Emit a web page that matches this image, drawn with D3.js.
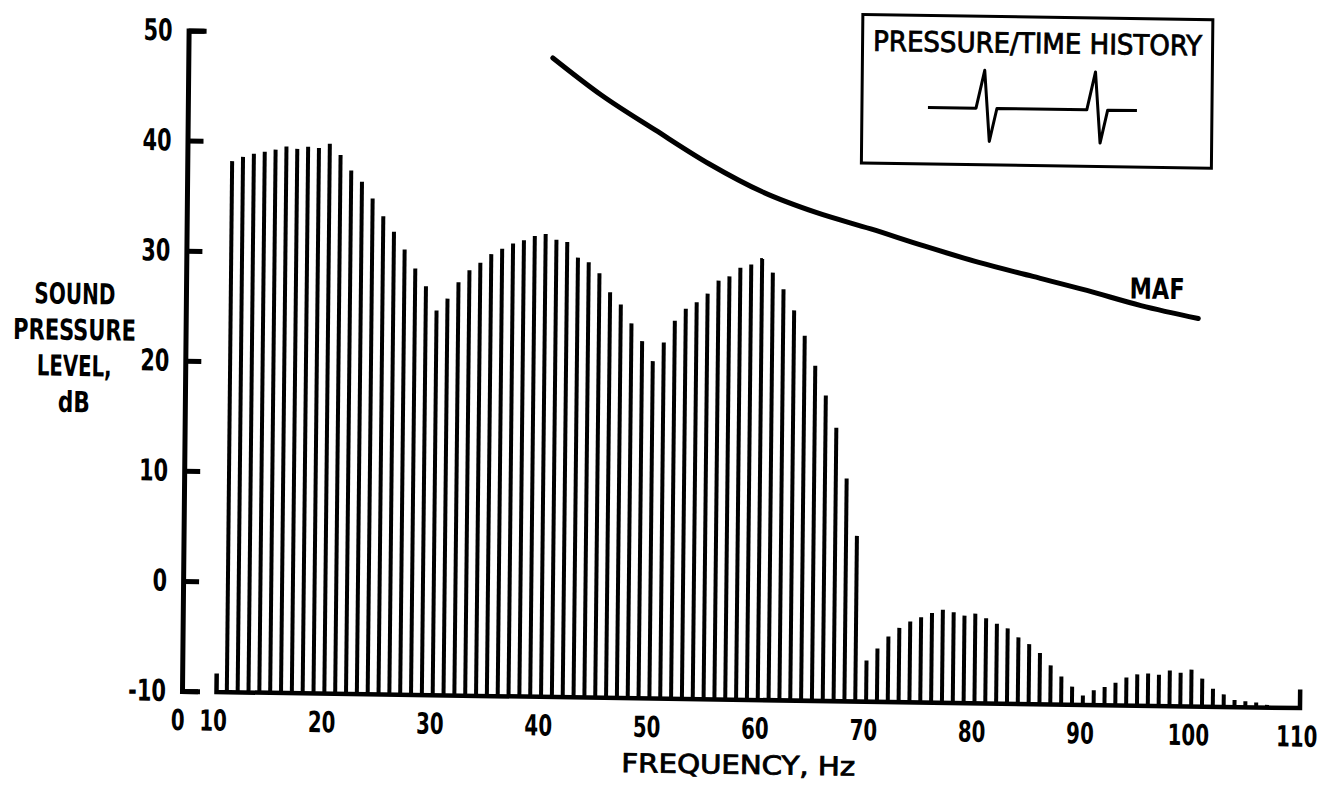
<!DOCTYPE html>
<html>
<head>
<meta charset="utf-8">
<script src="https://cdnjs.cloudflare.com/ajax/libs/d3/7.8.5/d3.min.js"></script>
<style>
  body { margin: 0; background: #fff; }
  svg { display: block; background: #fff; }
  text {
    font-family: "DejaVu Sans Condensed", "DejaVu Sans", sans-serif;
    font-weight: bold;
    font-size: 29px;
    fill: #000;
  }
  .axis text { font-size: 29px; }
  .axis.y text { font-size: 30px; }
</style>
</head>
<body>
<svg id="chart" width="1330" height="788"></svg>
<script>
// harmonic lines, 1 Hz apart
const freqs = [11, 12, 13, 14, 15, 16, 17, 18, 19, 20,
  21, 22, 23, 24, 25, 26, 27, 28, 29, 30,
  31, 32, 33, 34, 35, 36, 37, 38, 39, 40,
  41, 42, 43, 44, 45, 46, 47, 48, 49, 50,
  51, 52, 53, 54, 55, 56, 57, 58, 59, 60,
  61, 62, 63, 64, 65, 66, 67, 68, 69, 70,
  71, 72, 73, 74, 75, 76, 77, 78, 79, 80,
  81, 82, 83, 84, 85, 86, 87, 88, 89, 90,
  91, 92, 93, 94, 95, 96, 97, 98, 99, 100,
  101, 102, 103, 104, 105, 106, 107];

// sound pressure level, dB
const levels = [38.2, 38.6, 38.9, 39.1, 39.3, 39.6, 39.4, 39.6, 39.5, 39.9,
  38.9, 37.5, 36.5, 35.0, 33.4, 32.0, 30.4, 28.7, 27.1, 24.9,
  26.0, 27.5, 28.6, 29.3, 30.1, 30.6, 31.1, 31.4, 31.8, 32.0,
  31.5, 31.3, 29.9, 29.5, 28.5, 26.8, 25.7, 24.0, 22.4, 20.6,
  22.3, 24.3, 25.4, 26.0, 26.8, 28.0, 28.4, 29.2, 29.5, 30.1,
  28.8, 27.3, 25.4, 23.1, 20.4, 17.7, 14.8, 10.2, 5.0, -6.3,
  -5.2, -4.1, -3.3, -2.7, -2.3, -1.9, -1.6, -1.8, -2.1, -1.9,
  -2.3, -2.8, -3.2, -4.0, -4.6, -5.4, -6.5, -7.5, -8.4, -9.2,
  -8.7, -8.4, -8.0, -7.5, -7.2, -7.1, -7.2, -6.8, -7.0, -6.7,
  -7.5, -8.4, -8.9, -9.4, -9.5, -9.6, -9.8];

// MAF curve
const mafFreq = [40.5, 45, 50, 55, 60, 65, 70, 75, 80, 85, 90, 95, 100.3];
const mafLevel = [48.0, 44.7, 41.6, 38.6, 36.1, 34.3, 32.9, 31.4, 30.0, 28.8, 27.6, 26.3, 25.2];

// inset: pressure/time history (relative units)
const histTime = [0, 23, 27, 29.5, 33, 76, 80, 82.5, 86, 100];
const histPressure = [0, 0, 1, -0.87, 0, 0, 1, -0.87, 0, 0];

const xTicks = [10, 20, 30, 40, 50, 60, 70, 80, 90, 100, 110];
const yTicks = [-10, 0, 10, 20, 30, 40, 50];
const yTitle = ["SOUND", "PRESSURE", "LEVEL,", "dB"];

const svg = d3.select("#chart");

// the scanned original is slightly skewed, keep that
const g = svg.append("g")
  .attr("transform", "translate(213,691.5) matrix(1,0.0148,-0.01,1,0,0) translate(-213,-691.5)");

const x = d3.scaleLinear().domain([10, 110]).range([216, 1299.5]);
const y = d3.scaleLinear().domain([-10, 50]).range([691.5, 31]);

// squeeze lettering horizontally to the narrow stencil of the original
const squeeze = function (sel, widthOf) {
  sel.each(function (d, i) {
    const w0 = this.getComputedTextLength();
    const target = typeof widthOf === "function" ? widthOf(d, i) : widthOf;
    const s = target / w0;
    const x0 = +(this.getAttribute("x") || 0);
    d3.select(this)
      .attr("x", x0 / s)
      .attr("transform", `scale(${s},1)`);
  });
};
const tickWidth = per => d => String(d).replace("-", "").length * per + (d < 0 ? 9 : 0);

// Y axis
const yAxis = g.append("g")
  .attr("class", "axis y")
  .attr("transform", "translate(182,0)")
  .call(d3.axisLeft(y).tickValues(yTicks).tickFormat(d => String(d))
    .tickSizeInner(-16).tickSizeOuter(-18).tickPadding(16))
  .attr("font-size", null)
  .attr("font-family", null);
yAxis.select(".domain").attr("stroke-width", 5).attr("fill", "none");
yAxis.selectAll(".tick line").attr("stroke-width", 5);
squeeze(yAxis.selectAll(".tick text"), tickWidth(14.5));

// X axis
const xAxis = g.append("g")
  .attr("class", "axis")
  .attr("transform", `translate(0,${y(-10)})`)
  .call(d3.axisBottom(x).tickValues(xTicks).tickFormat(d => String(d))
    .tickSizeInner(0).tickSizeOuter(-18).tickPadding(18.5))
  .attr("font-size", null)
  .attr("font-family", null);
xAxis.select(".domain").attr("stroke-width", 4.5).attr("fill", "none");
xAxis.selectAll(".tick text").attr("x", -3);
squeeze(xAxis.selectAll(".tick text"), tickWidth(13.8));

xAxis.append("text")
  .attr("x", 178)
  .attr("y", 18.5)
  .attr("dy", "0.71em")
  .attr("text-anchor", "middle")
  .text("0")
  .call(squeeze, 13.8);

// Bars
g.selectAll(".bar")
  .data(freqs)
  .join("rect")
  .attr("class", "bar")
  .attr("x", d => x(d) - 2)
  .attr("width", 4)
  .attr("y", (d, i) => y(levels[i]))
  .attr("height", (d, i) => y(-10) - y(levels[i]))
  .attr("fill", "#000");

// MAF
const mafLine = d3.line()
  .x((d, i) => x(mafFreq[i]))
  .y(d => y(d))
  .curve(d3.curveMonotoneX);

g.append("path")
  .attr("d", mafLine(mafLevel))
  .attr("fill", "none")
  .attr("stroke", "#000")
  .attr("stroke-width", 5)
  .attr("stroke-linecap", "round");

g.append("text")
  .attr("x", 1153)
  .attr("y", 285)
  .attr("text-anchor", "middle")
  .text("MAF")
  .call(squeeze, 55);

// inset box
const inset = g.append("g");
inset.append("rect")
  .attr("x", 856)
  .attr("y", 5)
  .attr("width", 350)
  .attr("height", 148.5)
  .attr("fill", "#fff")
  .attr("stroke", "#000")
  .attr("stroke-width", 3);

inset.append("text")
  .attr("x", 1031)
  .attr("y", 41)
  .attr("text-anchor", "middle")
  .style("font-size", "28px")
  .style("font-weight", "normal")
  .style("stroke", "#000")
  .style("stroke-width", "0.8px")
  .text("PRESSURE/TIME HISTORY")
  .call(squeeze, 329);

const tx = d3.scaleLinear().domain([0, 100]).range([922, 1131]);
const py = d3.scaleLinear().domain([0, 1]).range([97, 59]);

inset.append("path")
  .attr("d", d3.line().x((d, i) => tx(histTime[i])).y(d => py(d))(histPressure))
  .attr("fill", "none")
  .attr("stroke", "#000")
  .attr("stroke-width", 3)
  .attr("stroke-linejoin", "round");

// axis titles
g.append("text")
  .attr("x", 739)
  .attr("y", 766)
  .attr("text-anchor", "middle")
  .style("font-size", "26px")
  .style("font-weight", "normal")
  .style("stroke", "#000")
  .style("stroke-width", "0.8px")
  .text("FREQUENCY, Hz")
  .call(squeeze, 234);

const titleWidths = [81, 123, 75, 32];
g.append("g")
  .selectAll("text")
  .data(yTitle)
  .join("text")
  .attr("x", 71)
  .attr("y", (d, i) => 306 + i * 36)
  .attr("text-anchor", "middle")
  .text(d => d)
  .each(function (d, i) { squeeze(d3.select(this), titleWidths[i]); });
</script>
</body>
</html>
